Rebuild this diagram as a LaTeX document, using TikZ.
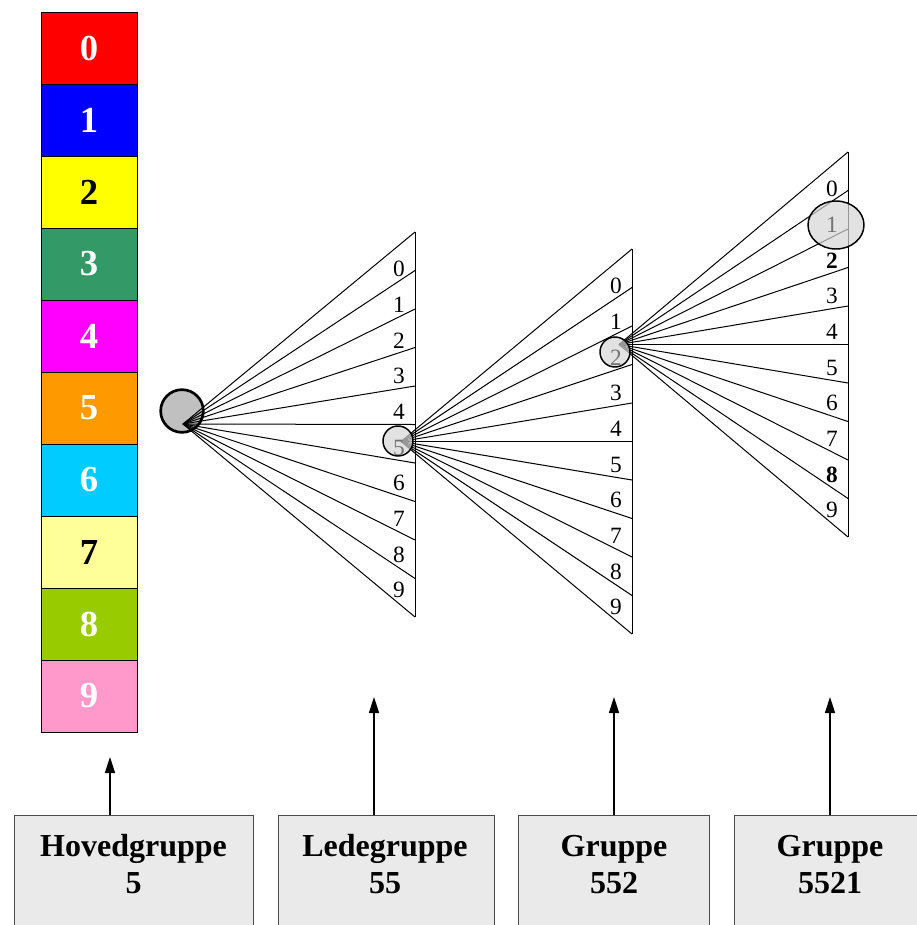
\documentclass[tikz,border=0pt]{standalone}
\usepackage{fontspec}
\setmainfont{Liberation Serif}
\usetikzlibrary{arrows.meta,shapes.geometric}
\definecolor{col0}{HTML}{FF0000}
\definecolor{col1}{HTML}{0000FF}
\definecolor{col2}{HTML}{FFFF00}
\definecolor{col3}{HTML}{339966}
\definecolor{col4}{HTML}{FF00FF}
\definecolor{col5}{HTML}{FF9900}
\definecolor{col6}{HTML}{00CCFF}
\definecolor{col7}{HTML}{FFFF99}
\definecolor{col8}{HTML}{99CC00}
\definecolor{col9}{HTML}{FF99CC}
\definecolor{boxgray}{HTML}{EAEAEA}
\definecolor{knap}{HTML}{C0C0C0}
\definecolor{knaplys}{HTML}{D6D6D6}

\begin{document}
\begin{tikzpicture}[x=0.75pt,y=-0.75pt,
  digit/.style={rectangle, draw, line width=0.75pt, inner sep=0pt,
                minimum width=72pt, minimum height=54pt,
                font=\fontsize{27.5}{30}\selectfont\bfseries},
  fanlbl/.style={inner sep=0pt, font=\fontsize{17.5}{19}\selectfont},
  hl/.style={text=black!55},
  lbl15/.style={hl}, lbl22/.style={hl}, lbl31/.style={hl},
  lbl32/.style={font=\fontsize{17.5}{19}\selectfont\bfseries},
  lbl38/.style={font=\fontsize{17.5}{19}\selectfont\bfseries},
  knop/.style={circle, draw, line width=1.1pt, fill=knaplys,
               fill opacity=0.7, minimum size=22.5pt, inner sep=0pt},
  gruppe/.style={rectangle, draw=black!70, line width=0.75pt, fill=boxgray,
                 minimum height=97.5pt, inner sep=0pt},
  gtekst/.style={align=center, inner sep=0pt,
                 font=\fontsize{24}{27.75}\selectfont\bfseries},
  pil/.style={-{Triangle[length=12pt,width=7.5pt]}, line width=1.2pt}]
\clip (0,0) rectangle (917,925);

\foreach \i/\tc in {0/white,1/white,2/black,3/white,4/white,
                    5/white,6/white,7/black,8/white,9/white}
  \node[digit, fill=col\i, text=\tc] (c\i) at (89,48+72*\i) {\i};

\node[circle, draw, line width=2pt, fill=knap, minimum size=32pt,
      inner sep=0pt] (k1) at (182,411) {};

\foreach \f/\ax/\ay/\vx/\vy in {1/183/424/415/232, 2/401/441.5/632/249,
                               3/619/344.5/848/152}{
  \coordinate (a\f) at (\ax,\ay);
  \foreach \k in {0,...,10}
    \coordinate (v\f-\k) at (\vx,\vy+38.5*\k);
  \draw[line width=0.75pt] (v\f-0) -- (v\f-10);
  \foreach \k in {0,...,10}
    \draw[line width=0.75pt] (a\f) -- (v\f-\k);
}

\node[knop] (k2) at (398,441) {};
\node[knop] (k3) at (615,352) {};
\node[knop, ellipse, minimum width=42pt, minimum height=36pt] (k4) at (836,225) {};

\foreach \f/\vx/\vy in {1/415/232, 2/632/249, 3/848/152}
  \foreach \i in {0,...,9}
    \node[fanlbl, lbl\f\i/.try] (l\f-\i) at (\vx-16,\vy+37+35.7*\i) {\i};

\node[gruppe, minimum width=179.25pt] (g1) at (133.5,880) {};
\node[gruppe, minimum width=162pt] (g2) at (386,880) {};
\node[gruppe, minimum width=143.25pt] (g3) at (613.5,880) {};
\node[gruppe, minimum width=143.25pt] (g4) at (829.5,880) {};

\node[gtekst] (t1) at (133.5,864.5) {Hovedgruppe\\5};
\node[gtekst] (t2) at (385,864.5) {Ledegruppe\\55};
\node[gtekst] (t3) at (614,864.5) {Gruppe\\552};
\node[gtekst] (t4) at (830,864.5) {Gruppe\\5521};

\coordinate (p1) at (110,757);
\coordinate (p2) at (374,697);
\coordinate (p3) at (614,697);
\coordinate (p4) at (830,697);
\foreach \n in {1,2,3,4}
  \draw[pil] (g\n.north -| p\n) -- (p\n);
\end{tikzpicture}
\end{document}
